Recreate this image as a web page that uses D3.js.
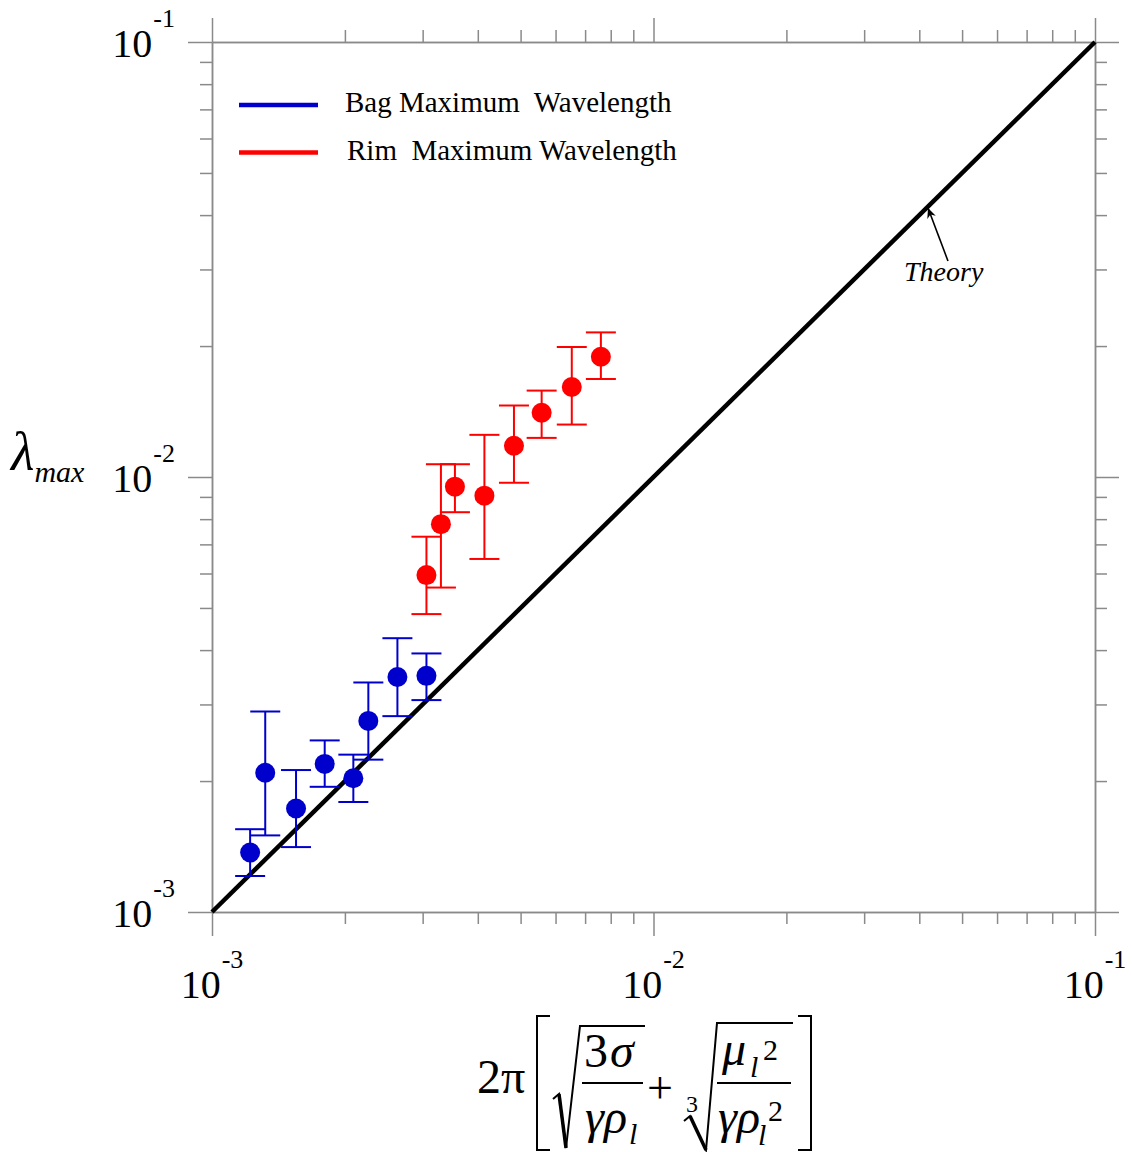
<!DOCTYPE html>
<html>
<head>
<meta charset="utf-8">
<script src="https://cdn.jsdelivr.net/npm/d3@7"></script>
<style>
	body { margin: 0; background: #fff; }
	text { font-family: "Liberation Serif", "Times New Roman", serif; fill: #000; }
</style>
</head>
<body>
<div id="graph"></div>
<script>
// bag / rim wavelength data
var bagX  = [1.22e-3, 1.32e-3, 1.55e-3, 1.80e-3, 2.09e-3, 2.26e-3, 2.63e-3, 3.06e-3];
var bagY  = [1.37e-3, 2.09e-3, 1.73e-3, 2.19e-3, 2.03e-3, 2.75e-3, 3.47e-3, 3.49e-3];
var bagHi = [1.55e-3, 2.89e-3, 2.12e-3, 2.48e-3, 2.30e-3, 3.37e-3, 4.26e-3, 3.93e-3];
var bagLo = [1.21e-3, 1.50e-3, 1.41e-3, 1.94e-3, 1.79e-3, 2.24e-3, 2.82e-3, 3.07e-3];

var rimX  = [3.06e-3, 3.30e-3, 3.55e-3, 4.14e-3, 4.83e-3, 5.58e-3, 6.53e-3, 7.60e-3];
var rimY  = [5.95e-3, 7.79e-3, 9.50e-3, 9.06e-3, 1.18e-2, 1.405e-2, 1.61e-2, 1.89e-2];
var rimHi = [7.29e-3, 1.07e-2, 1.07e-2, 1.25e-2, 1.46e-2, 1.58e-2, 1.99e-2, 2.15e-2];
var rimLo = [4.84e-3, 5.57e-3, 8.30e-3, 6.48e-3, 9.70e-3, 1.23e-2, 1.32e-2, 1.68e-2];

var theoryX = [1e-3, 1e-1];
var theoryY = [1e-3, 1e-1];

var majorTicks = [1e-3, 1e-2, 1e-1];
var majorExp = ["-3", "-2", "-1"];
var minorTicks = [2e-3, 3e-3, 4e-3, 5e-3, 6e-3, 7e-3, 8e-3, 9e-3,
                  2e-2, 3e-2, 4e-2, 5e-2, 6e-2, 7e-2, 8e-2, 9e-2];

var legendNames = ["Bag Maximum  Wavelength", "Rim  Maximum Wavelength"];

(function() {
	var graph = {
		width: 1132,
		height: 1152,
		left: 212, right: 1095, top: 42, bottom: 912,
		axisColor: "#8a8a8a",
		blue: "#0000cc",
		red: "#ff0000"
	};

	var svg = d3.select("#graph").append("svg")
		.attr("width", graph.width)
		.attr("height", graph.height);

	var x = d3.scaleLog().domain([1e-3, 1e-1]).range([graph.left, graph.right]);
	var y = d3.scaleLog().domain([1e-3, 1e-1]).range([graph.bottom, graph.top]);

	// _axis draws one side: minor ticks, major ticks and the frame line
	var _axis = function(gen, tx, ty) {
		[[minorTicks, 12], [majorTicks, 24]].forEach(function(t) {
			var g = svg.append("g")
				.attr("transform", "translate(" + tx + "," + ty + ")")
				.call(gen.tickValues(t[0]).tickSize(t[1]).tickSizeOuter(0).tickFormat(""));
			g.selectAll("line").attr("stroke", graph.axisColor).attr("stroke-width", 1.5);
			g.select(".domain").attr("stroke", graph.axisColor).attr("stroke-width", 1.5);
		});
	};
	_axis(d3.axisBottom(x), 0, graph.bottom);
	_axis(d3.axisTop(x), 0, graph.top);
	_axis(d3.axisLeft(y), graph.left, 0);
	_axis(d3.axisRight(y), graph.right, 0);

	// tick labels as 10 with superscript exponent
	majorTicks.forEach(function(v, i) {
		var t = svg.append("text")
			.attr("x", x(v)).attr("y", graph.bottom + 86)
			.attr("text-anchor", "middle")
			.style("font-size", "40px");
		t.append("tspan").text("10");
		t.append("tspan").attr("dy", -30).attr("dx", 1).style("font-size", "26px").text(majorExp[i]);

		var s = svg.append("text")
			.attr("x", 175).attr("y", y(v) + 15)
			.attr("text-anchor", "end")
			.style("font-size", "40px");
		s.append("tspan").text("10");
		s.append("tspan").attr("dy", -30).attr("dx", 1).style("font-size", "26px").text(majorExp[i]);
	});

	// theory line
	svg.append("path")
		.datum(d3.zip(theoryX, theoryY))
		.attr("d", d3.line().x(function(d) { return x(d[0]); }).y(function(d) { return y(d[1]); }))
		.attr("stroke", "#000").attr("stroke-width", 4.5).attr("fill", "none");

	// _series draws error bars and dots
	var _series = function(xs, ys, lo, hi, color) {
		var d = xs.map(function(v, i) { return { x: v, y: ys[i], lo: lo[i], hi: hi[i] }; });
		var g = svg.append("g").attr("stroke", color).attr("stroke-width", 2);
		g.selectAll(".bar").data(d).enter().append("line")
			.attr("x1", function(d) { return x(d.x); }).attr("x2", function(d) { return x(d.x); })
			.attr("y1", function(d) { return y(d.lo); }).attr("y2", function(d) { return y(d.hi); });
		["lo", "hi"].forEach(function(k) {
			g.selectAll(".cap" + k).data(d).enter().append("line")
				.attr("x1", function(d) { return x(d.x) - 15; }).attr("x2", function(d) { return x(d.x) + 15; })
				.attr("y1", function(d) { return y(d[k]); }).attr("y2", function(d) { return y(d[k]); });
		});
		svg.append("g").selectAll("circle").data(d).enter().append("circle")
			.attr("cx", function(d) { return x(d.x); })
			.attr("cy", function(d) { return y(d.y); })
			.attr("r", 10)
			.attr("fill", color);
	};
	_series(bagX, bagY, bagLo, bagHi, graph.blue);
	_series(rimX, rimY, rimLo, rimHi, graph.red);

	// legend
	[graph.blue, graph.red].forEach(function(c, i) {
		var ly = 105 + i * 47.5;
		svg.append("line").attr("x1", 239).attr("x2", 318).attr("y1", ly).attr("y2", ly)
			.attr("stroke", c).attr("stroke-width", 4.5);
		svg.append("text").attr("x", 345 + i * 2).attr("y", ly + 7)
			.style("font-size", "29px").style("white-space", "pre")
			.text(legendNames[i]);
	});

	// Theory annotation
	svg.append("defs").append("marker")
		.attr("id", "arr").attr("viewBox", "0 0 10 10").attr("refX", 10).attr("refY", 5)
		.attr("markerWidth", 10).attr("markerHeight", 10).attr("markerUnits", "userSpaceOnUse")
		.attr("orient", "auto")
		.append("path").attr("d", "M0,0.5 L10,5 L0,9.5 L3,5 Z").attr("fill", "#000");
	svg.append("line").attr("x1", 948).attr("y1", 261).attr("x2", 928).attr("y2", 208)
		.attr("stroke", "#000").attr("stroke-width", 1.6).attr("marker-end", "url(#arr)");
	svg.append("text").attr("x", 904).attr("y", 281)
		.style("font-size", "28px").style("font-style", "italic").text("Theory");

	// y title: lambda_max
	var yt = svg.append("text").attr("x", 11).attr("y", 470).style("font-style", "italic");
	yt.append("tspan").style("font-size", "54px").text("λ");
	yt.append("tspan").attr("dy", 12).style("font-size", "30px").text("max");

	// x title: 2pi [ sqrt(3 sigma / gamma rho_l) + cbrt(mu_l^2 / gamma rho_l^2) ]
	var f = svg.append("g");
	var _t = function(tx, ty, s, size, ital, anchor) {
		f.append("text").attr("x", tx).attr("y", ty)
			.attr("text-anchor", anchor || "start")
			.style("font-size", size + "px")
			.style("font-style", ital ? "italic" : "normal")
			.text(s);
	};
	var _p = function(d, w) {
		f.append("path").attr("d", d).attr("fill", "none").attr("stroke", "#000").attr("stroke-width", w || 2);
	};
	_t(477, 1093, "2π", 48, false);
	_p("M550,1016 H537 V1150 H550");
	_p("M553,1099 L559,1094 L566,1148 L580,1026 H645");
	_p("M559,1094 L566,1148", 3.5);
	_t(584, 1067, "3", 48, false);
	_t(610, 1067, "σ", 48, true);
	_p("M582,1083 H643");
	_t(585, 1133, "γρ", 48, true);
	_t(629, 1144, "l", 30, true);
	_t(660, 1103, "+", 46, false, "middle");
	_t(686, 1112, "3", 24, false);
	_p("M684,1121 L690,1116 L706,1150 L717,1023 H793");
	_p("M690,1116 L706,1150", 3.5);
	_t(722, 1065, "μ", 48, true);
	_t(750, 1077, "l", 30, true);
	_t(763, 1060, "2", 30, false);
	_p("M717,1083 H791");
	_t(718, 1133, "γρ", 48, true);
	_t(758, 1145, "l", 30, true);
	_t(768, 1121, "2", 30, false);
	_p("M798,1016 H811 V1150 H798");
})();
</script>
</body>
</html>
